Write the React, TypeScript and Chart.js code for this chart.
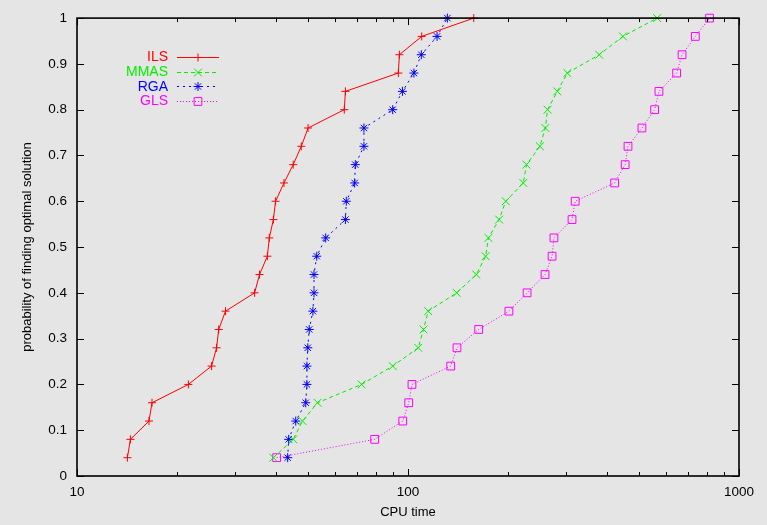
import React, { useEffect, useRef } from "react";
import { Chart, registerables } from "chart.js";

Chart.register(...registerables);

const probabilities = [
  0.04, 0.08, 0.12, 0.16, 0.2, 0.24, 0.28, 0.32, 0.36, 0.4, 0.44, 0.48, 0.52,
  0.56, 0.6, 0.64, 0.68, 0.72, 0.76, 0.8, 0.84, 0.88, 0.92, 0.96, 1.0,
];

const ilsTimes = [
  14.2, 14.5, 16.5, 16.85, 21.7, 25.5, 26.4, 26.8, 28.1, 34.4, 35.6, 37.6, 38.1,
  39.2, 39.8, 42.2, 45.0, 47.6, 49.9, 64.2, 64.7, 93.5, 94.2, 110, 158,
];
const mmasTimes = [
  39.2, 45.0, 48.0, 53.3, 72.4, 89.9, 107.4, 111.4, 115.1, 140.3, 160.8, 171.6,
  175, 188.5, 197.4, 223, 228, 250.4, 260, 264, 282.5, 303, 378, 446, 566,
];
const rgaTimes = [
  43.3, 43.6, 45.8, 49.1, 49.5, 49.5, 49.8, 50.3, 51.6, 52.0, 52.0, 53.0, 56.4,
  64.7, 65.1, 69.0, 69.3, 73.6, 73.6, 89.9, 96.2, 104.2, 109.7, 122.4, 131.5,
];
const glsTimes = [
  40.1, 79.3, 96.4, 100.5, 102.8, 134.6, 140.6, 163.5, 201.8, 229, 259.4, 272.4,
  276, 313, 320, 421, 453, 462, 509, 556, 573, 648, 673, 738, 815,
];

const seriesNames = ["ILS", "MMAS", "RGA", "GLS"];
const xTickValues = [
  10, 20, 30, 40, 50, 60, 70, 80, 90, 100, 200, 300, 400, 500, 600, 700, 800,
  900, 1000,
];
const xLabelValues = [10, 100, 1000];
const yTickValues = [0, 0.1, 0.2, 0.3, 0.4, 0.5, 0.6, 0.7, 0.8, 0.9, 1];

const FONT = "'Liberation Sans', Arial, Helvetica, sans-serif";
const BG = "#e5e5e5";

function toPoints(xs: number[]) {
  return xs.map((x, i) => ({ x, y: probabilities[i] }));
}

function drawMarker(ctx: CanvasRenderingContext2D, style: string, x: number, y: number, r: number) {
  ctx.beginPath();
  if (style === "cross") {
    ctx.moveTo(x - r, y);
    ctx.lineTo(x + r, y);
    ctx.moveTo(x, y - r);
    ctx.lineTo(x, y + r);
  } else if (style === "crossRot") {
    const d = r * Math.SQRT1_2;
    ctx.moveTo(x - d, y - d);
    ctx.lineTo(x + d, y + d);
    ctx.moveTo(x - d, y + d);
    ctx.lineTo(x + d, y - d);
  } else if (style === "star") {
    const d = r * Math.SQRT1_2;
    ctx.moveTo(x - r, y);
    ctx.lineTo(x + r, y);
    ctx.moveTo(x, y - r);
    ctx.lineTo(x, y + r);
    ctx.moveTo(x - d, y - d);
    ctx.lineTo(x + d, y + d);
    ctx.moveTo(x - d, y + d);
    ctx.lineTo(x + d, y - d);
  } else if (style === "rect") {
    const s = r * Math.SQRT1_2;
    ctx.rect(x - s, y - s, 2 * s, 2 * s);
  }
  ctx.stroke();
}

const framePlugin = {
  id: "gnuplotFrame",
  beforeDraw(chart: any) {
    const { ctx, width, height } = chart;
    ctx.save();
    ctx.fillStyle = BG;
    ctx.fillRect(0, 0, width, height);
    ctx.restore();
  },
  afterDraw(chart: any) {
    const { ctx, chartArea } = chart;
    const { left, right, top, bottom } = chartArea;
    const xs = chart.scales.x;
    const ys = chart.scales.y;
    ctx.save();
    ctx.strokeStyle = "#000";
    ctx.lineWidth = 1.6;
    ctx.strokeRect(left, top, right - left, bottom - top);
    ctx.lineWidth = 1;
    ctx.beginPath();
    for (const v of xTickValues) {
      const px = Math.round(xs.getPixelForValue(v)) + 0.5;
      const len = xLabelValues.includes(v) ? 7 : 4;
      ctx.moveTo(px, bottom);
      ctx.lineTo(px, bottom - len);
      ctx.moveTo(px, top);
      ctx.lineTo(px, top + len);
    }
    for (const v of yTickValues) {
      const py = Math.round(ys.getPixelForValue(v)) + 0.5;
      ctx.moveTo(left, py);
      ctx.lineTo(left + 7, py);
      ctx.moveTo(right, py);
      ctx.lineTo(right - 7, py);
    }
    ctx.stroke();

    // legend (gnuplot style: right-aligned text, then sample)
    const textRight = 168;
    const sx0 = 177;
    const sx1 = 219;
    const sxm = 198;
    ctx.font = `14px ${FONT}`;
    ctx.textAlign = "right";
    ctx.textBaseline = "middle";
    chart.data.datasets.forEach((ds: any, i: number) => {
      const y = 57 + i * 14.7;
      ctx.fillStyle = ds.borderColor;
      ctx.fillText(ds.label, textRight, y + 0.5);
      ctx.strokeStyle = ds.borderColor;
      ctx.lineWidth = 1;
      ctx.setLineDash(ds.borderDash || []);
      ctx.beginPath();
      ctx.moveTo(sx0, Math.round(y) + 0.5);
      ctx.lineTo(sx1, Math.round(y) + 0.5);
      ctx.stroke();
      ctx.setLineDash([]);
      drawMarker(ctx, ds.pointStyle, sxm, Math.round(y) + 0.5, ds.pointRadius);
    });
    ctx.restore();
  },
};

export default function App() {
  const canvasRef = useRef<HTMLCanvasElement | null>(null);

  useEffect(() => {
    document.body.style.margin = "0";
    document.body.style.background = BG;
    const canvas = canvasRef.current;
    if (!canvas) return;
    const colors = ["#ff0000", "#00ee00", "#0000ff", "#ff00ff"];
    const dashes = [[], [4, 3], [2, 4], [1, 2]];
    const styles = ["cross", "crossRot", "star", "rect"];
    const radii = [4, 5.5, 4.5, 5.5];
    const allTimes = [ilsTimes, mmasTimes, rgaTimes, glsTimes];

    const chart = new Chart(canvas, {
      type: "line",
      data: {
        datasets: seriesNames.map((name, i) => ({
          label: name,
          data: toPoints(allTimes[i]),
          borderColor: colors[i],
          backgroundColor: "rgba(0,0,0,0)",
          borderWidth: 1,
          borderDash: dashes[i],
          pointStyle: styles[i],
          pointRadius: radii[i],
          pointBorderWidth: 1,
          pointBorderColor: colors[i],
          pointBackgroundColor: "rgba(0,0,0,0)",
          fill: false,
          tension: 0,
          clip: false,
        })),
      },
      options: {
        responsive: false,
        animation: false,
        parsing: false as any,
        layout: { padding: { top: 11, right: 28, left: 0, bottom: 0 } },
        plugins: {
          legend: { display: false },
          tooltip: { enabled: false },
        },
        scales: {
          x: {
            type: "logarithmic",
            position: "bottom",
            min: 10,
            max: 1000,
            grid: { display: false, drawTicks: false },
            border: { display: false },
            afterBuildTicks: (scale: any) => {
              scale.ticks = xTickValues.map((v) => ({ value: v }));
            },
            afterFit: (scale: any) => {
              scale.height = 49;
            },
            ticks: {
              autoSkip: false,
              maxRotation: 0,
              padding: 8,
              color: "#000",
              font: { family: FONT, size: 13.5 },
              callback: (v: any) => (xLabelValues.includes(Number(v)) ? String(v) : ""),
            },
            title: {
              display: true,
              text: "CPU time",
              color: "#000",
              font: { family: FONT, size: 13 },
              padding: { top: 0, bottom: 5 },
            },
          },
          y: {
            type: "linear",
            min: 0,
            max: 1,
            grid: { display: false, drawTicks: false },
            border: { display: false },
            afterBuildTicks: (scale: any) => {
              scale.ticks = yTickValues.map((v) => ({ value: v }));
            },
            afterFit: (scale: any) => {
              scale.width = 77;
            },
            ticks: {
              padding: 10,
              color: "#000",
              font: { family: FONT, size: 13.5 },
              callback: (v: any) => String(Math.round(Number(v) * 10) / 10),
            },
            title: {
              display: true,
              text: "probability of finding optimal solution",
              color: "#000",
              font: { family: FONT, size: 13 },
              padding: { top: 20, bottom: 0 },
            },
          },
        },
      },
      plugins: [framePlugin],
    } as any);
    return () => chart.destroy();
  }, []);

  return (
    <div style={{ width: 767, height: 525, background: BG }}>
      <canvas ref={canvasRef} width={767} height={525} style={{ display: "block" }} />
    </div>
  );
}
